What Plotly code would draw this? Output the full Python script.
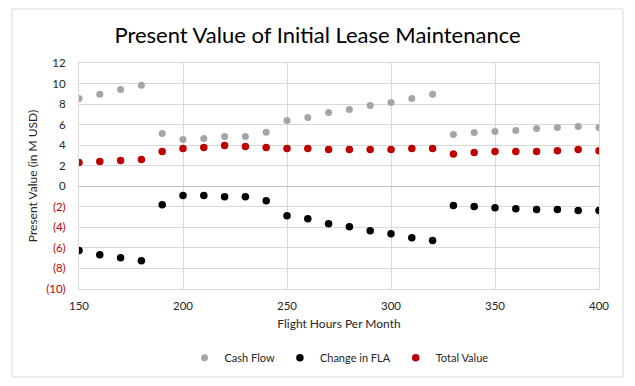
import plotly.graph_objects as go

hours = [150, 160, 170, 180, 190, 200, 210, 220, 230, 240, 250, 260, 270,
         280, 290, 300, 310, 320, 330, 340, 350, 360, 370, 380, 390, 400]
cash_flow = [8.54, 8.96, 9.42, 9.84, 5.13, 4.55, 4.64, 4.84, 4.84, 5.26, 6.40, 6.69, 7.18,
             7.47, 7.86, 8.15, 8.54, 8.96, 5.03, 5.23, 5.32, 5.42, 5.62, 5.71, 5.81, 5.71]
change_fla = [-6.25, -6.66, -6.95, -7.24, -1.79, -0.91, -0.91, -1.01, -1.01, -1.40, -2.86, -3.15, -3.64,
              -3.93, -4.32, -4.61, -5.00, -5.29, -1.88, -1.98, -2.08, -2.18, -2.27, -2.27, -2.37, -2.37]
total_value = [2.31, 2.40, 2.50, 2.60, 3.38, 3.67, 3.77, 3.96, 3.86, 3.77, 3.67, 3.67, 3.57,
               3.57, 3.57, 3.57, 3.67, 3.67, 3.15, 3.28, 3.38, 3.38, 3.38, 3.47, 3.57, 3.47]

y_ticks = [12, 10, 8, 6, 4, 2, 0, -2, -4, -6, -8, -10]
y_ticktext = [str(v) if v >= 0 else '<span style="color:#C00000">(%d)</span>' % (-v) for v in y_ticks]
x_ticks = [150, 200, 250, 300, 350, 400]

FONT = "Lato"
W, H = 635, 386
ml, mr, mt, mb = 79, 36, 63, 97
TXT = "#262626"

fig = go.Figure()
fig.add_trace(go.Scatter(x=hours, y=cash_flow, mode="markers", name="Cash Flow",
                         marker=dict(color="#A5A5A5", size=7)))
fig.add_trace(go.Scatter(x=hours, y=change_fla, mode="markers", name="Change in FLA",
                         marker=dict(color="#000000", size=7.5)))
fig.add_trace(go.Scatter(x=hours, y=total_value, mode="markers", name="Total Value",
                         marker=dict(color="#C00000", size=7.5)))

pw, ph = W - ml - mr, H - mt - mb
bx0, bx1, by0, by1 = 12, 623, 9, 377
fig.add_shape(type="rect", xref="paper", yref="paper",
              x0=(bx0 - ml) / pw, x1=(bx1 - ml) / pw,
              y0=(H - mb - by1) / ph, y1=(H - mb - by0) / ph,
              line=dict(color="#D9D9D9", width=1), layer="below")

fig.update_layout(
    width=W, height=H,
    margin=dict(l=ml, r=mr, t=mt, b=mb),
    paper_bgcolor="white", plot_bgcolor="white",
    font=dict(family=FONT, size=11, color=TXT),
    title=dict(text="Present Value of Initial Lease Maintenance", x=0.5, xanchor="center",
               y=1 - 35 / H, yanchor="middle",
               font=dict(family=FONT, size=22, color="#000000")),
    showlegend=True,
    legend=dict(orientation="h", x=0.5, xanchor="center", y=-0.24, yanchor="top",
                font=dict(family=FONT, size=11, color=TXT), itemwidth=30,
                itemsizing="trace", tracegroupgap=0),
    xaxis=dict(range=[150, 400], tickvals=x_ticks, showgrid=True, gridcolor="#D9D9D9",
               zeroline=False, showline=True, mirror=True, linecolor="#D9D9D9",
               ticks="", ticklabelstandoff=6,
               tickfont=dict(family=FONT, size=11.5, color=TXT),
               title=dict(text="Flight Hours Per Month", standoff=8,
                          font=dict(family=FONT, size=12, color=TXT))),
    yaxis=dict(range=[-10, 12], tickvals=y_ticks, ticktext=y_ticktext, showgrid=True,
               gridcolor="#D9D9D9", zeroline=True, zerolinecolor="#BFBFBF", zerolinewidth=1,
               showline=True, mirror=True, linecolor="#D9D9D9", ticks="",
               ticklabelstandoff=10,
               tickfont=dict(family=FONT, size=11.5, color=TXT),
               title=dict(text="Present Value (in M USD)", standoff=6,
                          font=dict(family=FONT, size=12, color=TXT))),
)

fig.write_html("out.html", config={"displayModeBar": False},
               post_script="document.body.style.margin='0';document.body.style.padding='0';")
